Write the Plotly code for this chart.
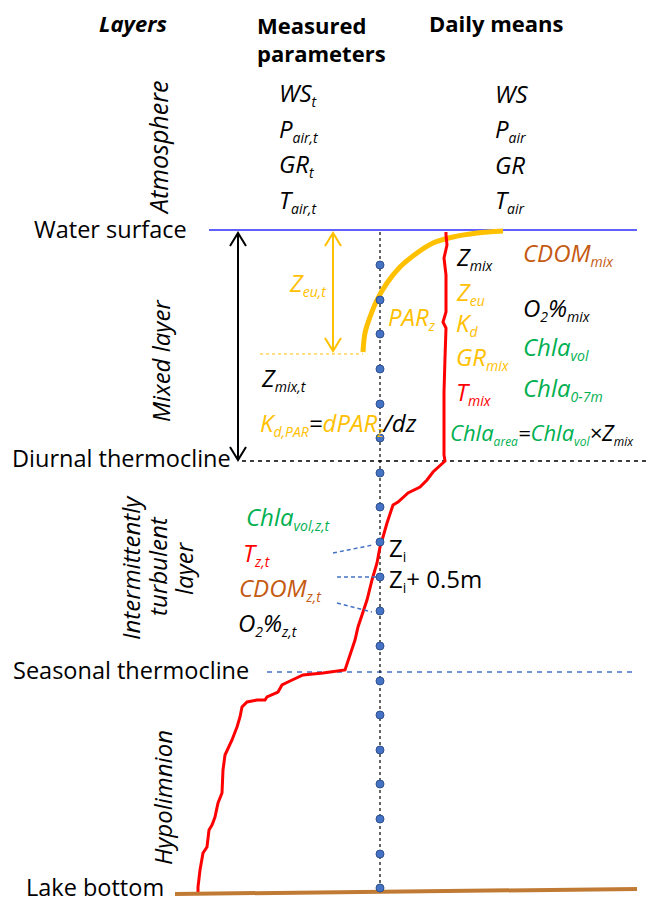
import plotly.graph_objects as go

# schematic lake profile, coordinates in drawing units (y grows downwards)
sensor_x = 380
sensor_y = [265, 300, 334, 369, 404, 438, 473, 507, 542, 577, 611, 646, 681, 715, 750, 784, 819, 854, 888]

temp_x = [446, 446, 447, 444, 446, 446, 443, 446, 445, 444, 444, 444, 445,
          433, 427, 420, 408, 398, 393, 390, 387, 383, 380, 377, 372, 367, 363, 358, 355, 348, 345,
          323, 303, 290, 282, 278, 267, 265, 257, 247, 242, 240, 237, 232, 228, 225, 223, 222,
          218, 215, 212, 209, 207, 203, 200, 198, 198]
temp_y = [232, 235, 245, 258, 275, 312, 322, 328, 358, 392, 425, 455, 461,
          472, 480, 487, 493, 502, 505, 513, 523, 537, 547, 563, 580, 600, 613, 627, 640, 660, 670,
          673, 675, 681, 685, 692, 697, 700, 700, 702, 707, 717, 727, 740, 748, 755, 770, 793,
          803, 817, 825, 830, 847, 853, 870, 887, 895]

par_x = [363, 365, 370, 377, 387, 400, 417, 433, 453, 477, 503]
par_y = [352, 333, 317, 300, 283, 267, 253, 243, 237, 233, 231]

surface_y = 230
diurnal_y = 461
seasonal_y = 672
euphotic_y = 354
bottom_x = [175, 637]
bottom_y = [894, 889]

FONT = "Open Sans"
YEL = "#FFC000"
GRN = "#00B050"
RED = "#FF0000"
BRN = "#C55A11"
BLU = "#4472C4"


def c(txt, col):
    return f"<span style='color:{col}'>{txt}</span>"


def sb(txt, size=14):
    return f"<sub><span style='font-size:{size}px'>{txt}</span></sub>"


fig = go.Figure()

fig.add_trace(go.Scatter(x=[209, 637], y=[surface_y, surface_y], mode="lines",
                         line=dict(color="#2B2BFF", width=1.5), hoverinfo="skip"))
fig.add_trace(go.Scatter(x=[242, 649], y=[diurnal_y, diurnal_y], mode="lines",
                         line=dict(color="black", width=1.5, dash="4px,4px"), hoverinfo="skip"))
fig.add_trace(go.Scatter(x=[267, 636], y=[seasonal_y, seasonal_y], mode="lines",
                         line=dict(color=BLU, width=1.5, dash="5px,5px"), hoverinfo="skip"))
fig.add_trace(go.Scatter(x=[sensor_x, sensor_x], y=[232, 892], mode="lines",
                         line=dict(color="black", width=1.2, dash="3px,3px"), hoverinfo="skip"))
fig.add_trace(go.Scatter(x=[260, 363], y=[euphotic_y, euphotic_y], mode="lines",
                         line=dict(color=YEL, width=1.2, dash="dot"), hoverinfo="skip"))
fig.add_trace(go.Scatter(x=par_x, y=par_y, mode="lines",
                         line=dict(color=YEL, width=5, shape="spline"), hoverinfo="skip"))
fig.add_trace(go.Scatter(x=temp_x, y=temp_y, mode="lines",
                         line=dict(color=RED, width=3), hoverinfo="skip"))
fig.add_trace(go.Scatter(x=bottom_x, y=bottom_y, mode="lines",
                         line=dict(color="#C07A34", width=4), hoverinfo="skip"))

# connectors from measured parameters to sensor depths
for xs, ys in [([333, 373], [553, 545]), ([337, 377], [577, 577]), ([337, 372], [603, 612])]:
    fig.add_trace(go.Scatter(x=xs, y=ys, mode="lines",
                             line=dict(color=BLU, width=1.5, dash="4px,3px"), hoverinfo="skip"))

fig.add_trace(go.Scatter(x=[sensor_x] * len(sensor_y), y=sensor_y, mode="markers",
                         marker=dict(color=BLU, size=8, line=dict(color="#2F528F", width=1)),
                         hoverinfo="skip"))

# double arrows with open heads
shapes = []
for ax, y0, y1, col in [(238, 233, 460, "black"), (333, 233, 351, YEL)]:
    shapes.append(dict(type="line", x0=ax, x1=ax, y0=y0, y1=y1, xref="x", yref="y",
                       line=dict(color=col, width=2)))
    shapes.append(dict(type="path", xref="x", yref="y", line=dict(color=col, width=2),
                       path=f"M {ax-8},{y0+13} L {ax},{y0} L {ax+8},{y0+13}"))
    shapes.append(dict(type="path", xref="x", yref="y", line=dict(color=col, width=2),
                       path=f"M {ax-8},{y1-13} L {ax},{y1} L {ax+8},{y1-13}"))

ann = []


def txt(x, y, s, size=24, col="black", xanchor="left", angle=0):
    ann.append(dict(x=x, y=y, text=s, showarrow=False, xanchor=xanchor, yanchor="middle",
                    textangle=angle, font=dict(family=FONT, size=size, color=col)))


# headers
txt(133, 23, "<b><i>Layers</i></b>", size=22, xanchor="center")
txt(255, 25, "<b>Measured</b>", size=22)
txt(255, 53, "<b>parameters</b>", size=22)
txt(427, 23, "<b>Daily means</b>", size=22)

# layer names
txt(158, 148, "<i>Atmosphere</i>", size=25, xanchor="center", angle=-90)
txt(160, 361, "<i>Mixed layer</i>", xanchor="center", angle=-90)
txt(130, 568, "<i>Intermittently</i>", xanchor="center", angle=-90)
txt(157, 566, "<i>turbulent</i>", xanchor="center", angle=-90)
txt(183, 568, "<i>layer</i>", xanchor="center", angle=-90)
txt(162, 798, "<i>Hypolimnion</i>", xanchor="center", angle=-90)

txt(110, 229, "Water surface", size=23.5, xanchor="center")
txt(121, 458, "Diurnal thermocline", size=23.5, xanchor="center")
txt(131, 670, "Seasonal thermocline", size=23.5, xanchor="center")
txt(95, 887, "Lake bottom", size=23.5, xanchor="center")

# atmosphere parameters
meas = ["WS" + sb("t"), "P" + sb("air,t"), "GR" + sb("t"), "T" + sb("air,t")]
daily = ["WS", "P" + sb("air"), "GR", "T" + sb("air")]
rows = [93, 129, 164, 200]
for m, d, y in zip(meas, daily, rows):
    txt(277, y, f"<i>{m}</i>")
    txt(493, y, f"<i>{d}</i>")

# mixed layer, measured
txt(287, 283, "<i>Z" + sb("eu,t") + "</i>", col=YEL)
txt(386, 317, "<i>PAR" + sb("z") + "</i>", col=YEL)
txt(259, 378, "<i>Z" + sb("mix,t") + "</i>")
txt(258, 423, "<i>" + c("K" + sb("d,PAR"), YEL) + "=" + c("dPAR" + sb("z"), YEL) + "/dz</i>")

# mixed layer, daily means
txt(454, 257, "<i>Z" + sb("mix") + "</i>")
txt(454, 292, "<i>Z" + sb("eu") + "</i>", col=YEL)
txt(454, 323, "<i>K" + sb("d") + "</i>", col=YEL)
txt(454, 357, "<i>GR" + sb("mix") + "</i>", col=YEL)
txt(454, 392, "<i>T" + sb("mix") + "</i>", col=RED)
txt(448, 433, "<i>" + c("Chla" + sb("area", 12), GRN) + "=" + c("Chla" + sb("vol", 12), GRN)
    + "×Z" + sb("mix", 12) + "</i>", size=22)

txt(521, 253, "<i>CDOM" + sb("mix") + "</i>", col=BRN)
txt(521, 308, "<i>O" + sb("2") + "%" + sb("mix") + "</i>")
txt(521, 347, "<i>Chla" + sb("vol") + "</i>", col=GRN)
txt(521, 388, "<i>Chla" + sb("0-7m") + "</i>", col=GRN)

# intermittently turbulent layer
txt(244, 517, "<i>Chla" + sb("vol,z,t") + "</i>", col=GRN)
txt(241, 553, "<i>T" + sb("z,t") + "</i>", col=RED)
txt(237, 588, "<i>CDOM" + sb("z,t") + "</i>", col=BRN)
txt(236, 623, "<i>O" + sb("2") + "%" + sb("z,t") + "</i>")
txt(387, 548, "Z" + sb("i"))
txt(387, 579, "Z" + sb("i") + "+ 0.5m")

fig.update_layout(
    width=649, height=904,
    margin=dict(l=0, r=0, t=0, b=0),
    paper_bgcolor="white", plot_bgcolor="white",
    showlegend=False,
    xaxis=dict(range=[0, 649], visible=False, fixedrange=True),
    yaxis=dict(range=[904, 0], visible=False, fixedrange=True),
    shapes=shapes,
    annotations=ann,
)

fig.write_html("out.html", config={"displayModeBar": False},
               post_script="document.body.style.margin='0';")
